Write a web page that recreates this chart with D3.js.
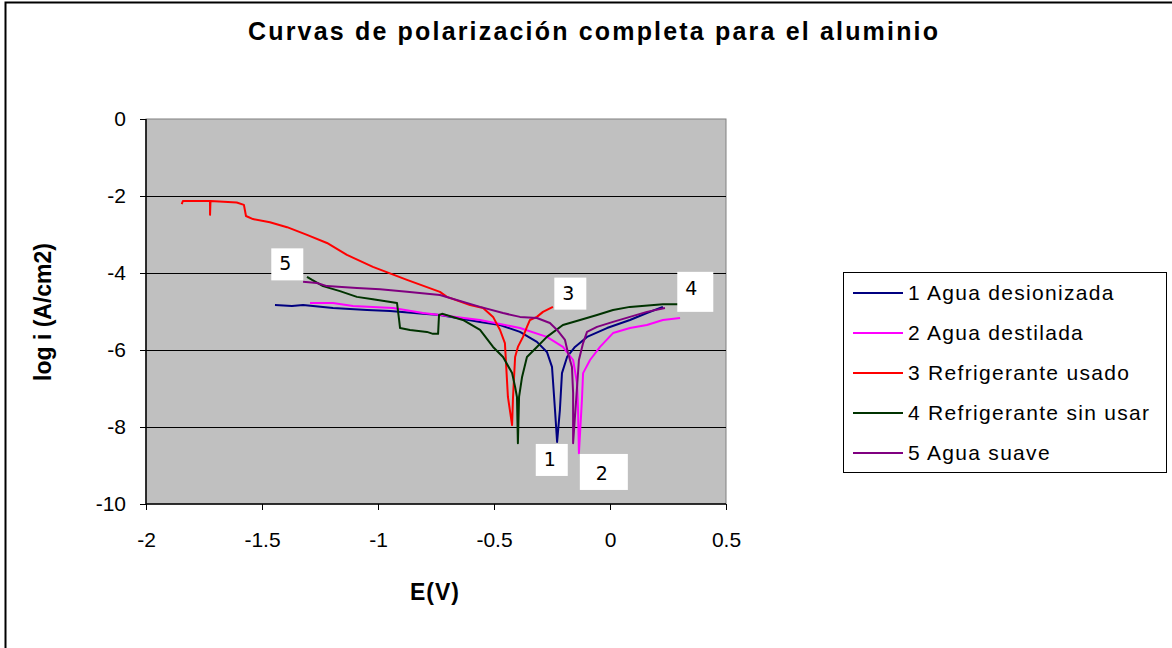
<!DOCTYPE html>
<html>
<head>
<meta charset="utf-8">
<script src="https://cdn.jsdelivr.net/npm/d3@7"></script>
<style>
  body { margin: 0; background: #fff; }
  svg { display: block; font-family: "Liberation Sans", Arial, sans-serif; }
</style>
</head>
<body>
<script>
// series names and colours
const seriesNames = [
  "1 Agua desionizada",
  "2 Agua destilada",
  "3 Refrigerante usado",
  "4 Refrigerante sin usar",
  "5 Agua suave"
];
const seriesColors = ["#000080", "#ff00ff", "#ff0000", "#003300", "#800080"];

// [E (V), log i]
const agua_desionizada = [
  [-1.444, -4.83], [-1.371, -4.86], [-1.323, -4.83], [-1.194, -4.91], [-1.047, -4.96],
  [-0.948, -4.99], [-0.806, -5.06], [-0.733, -5.09], [-0.560, -5.27], [-0.474, -5.35],
  [-0.388, -5.53], [-0.315, -5.79], [-0.272, -6.05], [-0.250, -6.44], [-0.246, -6.78],
  [-0.237, -7.56], [-0.228, -8.39], [-0.216, -7.56], [-0.207, -6.60], [-0.185, -6.18],
  [-0.151, -5.92], [-0.099, -5.66], [-0.013, -5.43], [0.086, -5.22], [0.159, -5.04],
  [0.228, -4.88]
];
const agua_destilada = [
  [-1.293, -4.78], [-1.194, -4.78], [-1.108, -4.86], [-0.935, -4.91], [-0.806, -5.04],
  [-0.733, -5.09], [-0.560, -5.22], [-0.388, -5.43], [-0.272, -5.66], [-0.203, -5.92],
  [-0.159, -6.26], [-0.142, -6.86], [-0.138, -7.48], [-0.134, -8.68], [-0.121, -7.30],
  [-0.116, -6.60], [-0.086, -6.26], [-0.043, -5.92], [0.013, -5.56], [0.086, -5.43],
  [0.159, -5.35], [0.228, -5.22], [0.302, -5.17]
];
const refrigerante_usado = [
  [-1.846, -2.21], [-1.841, -2.13], [-1.724, -2.13], [-1.724, -2.49], [-1.722, -2.13],
  [-1.609, -2.17], [-1.578, -2.23], [-1.569, -2.52], [-1.539, -2.60], [-1.466, -2.68],
  [-1.392, -2.81], [-1.306, -3.01], [-1.220, -3.22], [-1.134, -3.53], [-1.022, -3.84],
  [-0.875, -4.18], [-0.733, -4.49], [-0.703, -4.62], [-0.603, -4.83], [-0.547, -4.91],
  [-0.504, -5.14], [-0.474, -5.48], [-0.453, -5.82], [-0.440, -7.22], [-0.422, -7.95],
  [-0.418, -7.22], [-0.409, -6.18], [-0.397, -5.92], [-0.375, -5.66], [-0.358, -5.40],
  [-0.345, -5.22], [-0.315, -5.14], [-0.289, -5.01], [-0.246, -4.88]
];
const refrigerante_sin_usar = [
  [-1.306, -4.10], [-1.284, -4.18], [-1.237, -4.34], [-1.164, -4.47], [-1.091, -4.62],
  [-1.022, -4.68], [-0.918, -4.78], [-0.909, -5.22], [-0.905, -5.43], [-0.862, -5.48],
  [-0.789, -5.53], [-0.763, -5.58], [-0.741, -5.58], [-0.737, -5.09], [-0.724, -5.06],
  [-0.634, -5.22], [-0.560, -5.48], [-0.504, -5.92], [-0.461, -6.18], [-0.422, -6.60],
  [-0.409, -6.96], [-0.401, -7.22], [-0.397, -8.42], [-0.392, -7.22], [-0.379, -6.70],
  [-0.358, -6.18], [-0.315, -5.92], [-0.272, -5.66], [-0.203, -5.35], [-0.129, -5.22],
  [-0.056, -5.09], [0.013, -4.96], [0.086, -4.88], [0.228, -4.81], [0.293, -4.81]
];
const agua_suave = [
  [-1.323, -4.23], [-1.263, -4.26], [-1.220, -4.34], [-1.091, -4.39], [-0.991, -4.42],
  [-0.875, -4.49], [-0.733, -4.57], [-0.560, -4.88], [-0.461, -5.04], [-0.388, -5.14],
  [-0.315, -5.17], [-0.259, -5.30], [-0.228, -5.48], [-0.194, -5.74], [-0.181, -6.08],
  [-0.164, -6.44], [-0.159, -7.12], [-0.159, -8.42], [-0.142, -6.96], [-0.134, -6.26],
  [-0.116, -5.82], [-0.099, -5.53], [-0.056, -5.40], [0.013, -5.27], [0.086, -5.14],
  [0.159, -5.01], [0.237, -4.91]
];
const allSeries = [agua_desionizada, agua_destilada, refrigerante_usado, refrigerante_sin_usar, agua_suave];

// number tags drawn on the plot: [text, E, log i] (top-left corner of the white box)
const tagLabels = [
  ["5", -1.46, -3.36],
  ["3", -0.24, -4.12],
  ["4", 0.29, -3.97],
  ["1", -0.32, -8.44],
  ["2", -0.13, -8.70]
];

const xTicks = [-2, -1.5, -1, -0.5, 0, 0.5];
const yTicks = [0, -2, -4, -6, -8, -10];

const width = 1172, height = 648;
const plot = { left: 146, top: 119, right: 726, bottom: 504 };

const svg = d3.select("body").append("svg")
  .attr("width", width)
  .attr("height", height);

// outer chart border
svg.append("rect")
  .attr("x", 5.5).attr("y", 2.5)
  .attr("width", 1200).attr("height", 700)
  .attr("fill", "#fff").attr("stroke", "#000").attr("stroke-width", 2);

const x = d3.scaleLinear().domain([-2, 0.5]).range([plot.left, plot.right]);
const y = d3.scaleLinear().domain([-10, 0]).range([plot.bottom, plot.top]);

// plot background
svg.append("rect")
  .attr("x", plot.left).attr("y", plot.top)
  .attr("width", plot.right - plot.left).attr("height", plot.bottom - plot.top)
  .attr("fill", "#c0c0c0").attr("stroke", "#808080").attr("stroke-width", 1);

// gridlines
svg.append("g")
  .selectAll("line")
  .data(yTicks.filter(d => d !== 0 && d !== -10))
  .join("line")
  .attr("x1", plot.left).attr("x2", plot.right)
  .attr("y1", d => Math.round(y(d)) + 0.5).attr("y2", d => Math.round(y(d)) + 0.5)
  .attr("stroke", "#000").attr("stroke-width", 1);

// axes (plain hyphen minus, like the original)
const xAxis = d3.axisBottom(x).tickValues(xTicks).tickSize(6).tickPadding(22)
  .tickFormat(d => String(d));
const yAxis = d3.axisLeft(y).tickValues(yTicks).tickSize(6).tickPadding(14)
  .tickFormat(d => String(d));

const gx = svg.append("g")
  .attr("transform", `translate(0,${plot.bottom})`)
  .call(xAxis);
const gy = svg.append("g")
  .attr("transform", `translate(${plot.left},0)`)
  .call(yAxis);

[gx, gy].forEach(g => {
  g.select(".domain").attr("stroke", "#000").attr("stroke-width", 1.5);
  g.selectAll(".tick line").attr("stroke", "#000");
  g.selectAll(".tick text")
    .attr("fill", "#000")
    .style("font-family", "'Liberation Sans', Arial, sans-serif")
    .style("font-size", "21px");
});
gx.select(".domain").attr("d", `M${plot.left},0H${plot.right}`);
gy.select(".domain").attr("d", `M0,${plot.top}V${plot.bottom}`);

// curves
const line = d3.line().x(d => x(d[0])).y(d => y(d[1]));
svg.append("g")
  .selectAll("path")
  .data(allSeries)
  .join("path")
  .attr("d", line)
  .attr("fill", "none")
  .attr("stroke", (d, i) => seriesColors[i])
  .attr("stroke-width", 2)
  .attr("stroke-linejoin", "round");

// number tags
const tags = svg.append("g")
  .selectAll("g")
  .data(tagLabels)
  .join("g")
  .attr("transform", d => `translate(${x(d[1])},${y(d[2])})`);
tags.append("rect")
  .attr("width", d => d[0] === "2" ? 48 : d[0] === "4" ? 36 : 32)
  .attr("height", d => d[0] === "2" ? 36 : d[0] === "4" ? 40 : 32)
  .attr("fill", "#fff");
tags.append("text")
  .attr("x", d => d[0] === "2" ? 22 : 14)
  .attr("y", d => d[0] === "2" ? 26 : d[0] === "4" ? 23 : 22)
  .attr("text-anchor", "middle")
  .style("font-family", "'DejaVu Sans', sans-serif")
  .style("font-size", "19px")
  .text(d => d[0]);

// title
svg.append("text")
  .attr("x", 593).attr("y", 40)
  .attr("text-anchor", "middle")
  .attr("textLength", 690).attr("lengthAdjust", "spacing")
  .style("font-weight", "bold").style("font-size", "25px")
  .text("Curvas de polarización completa para el aluminio");

// axis titles
svg.append("text")
  .attr("x", 435).attr("y", 600)
  .attr("text-anchor", "middle")
  .style("font-weight", "bold").style("font-size", "23px")
  .style("letter-spacing", "1px")
  .text("E(V)");
svg.append("text")
  .attr("transform", "translate(51,312) rotate(-90)")
  .attr("text-anchor", "middle")
  .style("font-weight", "bold").style("font-size", "23px")
  .text("log i (A/cm2)");

// legend
const legend = svg.append("g").attr("transform", "translate(843,272)");
legend.append("rect")
  .attr("x", 0.5).attr("y", 0.5).attr("width", 323).attr("height", 200)
  .attr("fill", "#fff").attr("stroke", "#000");
const items = legend.selectAll("g.item")
  .data(seriesNames)
  .join("g")
  .attr("class", "item")
  .attr("transform", (d, i) => `translate(0,${21 + i * 40})`);
items.append("line")
  .attr("x1", 10).attr("x2", 60)
  .attr("stroke", (d, i) => seriesColors[i]).attr("stroke-width", 2);
items.append("text")
  .attr("x", 65).attr("dy", "0.35em")
  .style("font-size", "21px")
  .style("letter-spacing", "1.3px")
  .text(d => d);
</script>
</body>
</html>
